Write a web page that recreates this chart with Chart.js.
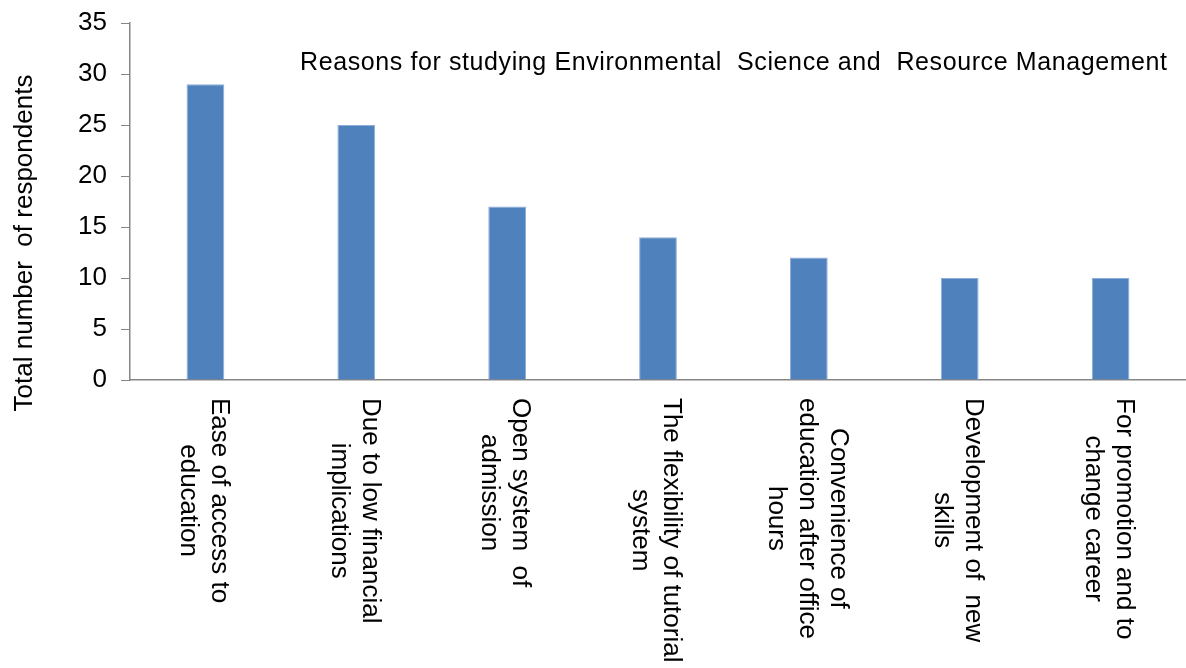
<!DOCTYPE html>
<html>
<head>
<meta charset="utf-8">
<script src="https://cdn.jsdelivr.net/npm/chart.js@4.4.0/dist/chart.umd.min.js"></script>
<style>
  html, body { margin: 0; padding: 0; background: #fff; }
</style>
</head>
<body>
<canvas id="chart" width="1186" height="668"></canvas>
<script>
// data
const categories = [
  ["Ease of access to", "education"],
  ["Due to low financial", "implications"],
  ["Open system  of", "admission"],
  ["The flexibility of tutorial", "system"],
  ["Convenience of", "education after office", "hours"],
  ["Development of  new", "skills"],
  ["For promotion and to", "change career"]
];
const respondents = [29, 25, 17, 14, 12, 10, 10];
const yMin = 0;
const yMax = 35;
const yStep = 5;
const chartTitle = "Reasons for studying Environmental  Science and  Resource Management";
const yTitle = "Total number  of respondents";

const FONT = '"Liberation Sans", Arial, sans-serif';
const AXIS = '#868686';

// draws the sideways category labels, the inner title and the y title
const textPlugin = {
  id: 'textPlugin',
  afterDraw(chart) {
    const ctx = chart.ctx;
    const xs = chart.scales.x;
    const area = chart.chartArea;
    ctx.save();
    ctx.fillStyle = '#000';
    ctx.font = '26px ' + FONT;
    categories.forEach((lines, i) => {
      const cx = xs.getPixelForValue(i);
      const w = Math.max(...lines.map(l => ctx.measureText(l).width));
      ctx.save();
      ctx.translate(cx - 2, area.bottom + 18);
      ctx.rotate(Math.PI / 2);
      ctx.textAlign = 'center';
      ctx.textBaseline = 'middle';
      lines.forEach((l, j) => {
        ctx.fillText(l, w / 2, (j - (lines.length - 1) / 2) * 31);
      });
      ctx.restore();
    });

    ctx.font = '25px ' + FONT;
    ctx.letterSpacing = '0.6px';
    ctx.textAlign = 'left';
    ctx.textBaseline = 'middle';
    ctx.fillText(chartTitle, 300, 63);
    ctx.letterSpacing = '0px';

    ctx.font = '26px ' + FONT;
    ctx.save();
    ctx.translate(25, 243);
    ctx.rotate(-Math.PI / 2);
    ctx.textAlign = 'center';
    ctx.fillText(yTitle, 0, 0);
    ctx.restore();
    ctx.restore();
  }
};

new Chart(document.getElementById('chart'), {
  type: 'bar',
  data: {
    labels: categories,
    datasets: [{
      data: respondents,
      backgroundColor: '#4F81BD',
      borderColor: '#8caed8',
      borderWidth: 1,
      barPercentage: 0.25,
      categoryPercentage: 1
    }]
  },
  options: {
    responsive: false,
    animation: false,
    devicePixelRatio: 1,
    layout: { padding: { top: 23, right: 0, bottom: 0, left: 0 } },
    plugins: {
      legend: { display: false },
      title: { display: false },
      tooltip: { enabled: false }
    },
    scales: {
      x: {
        grid: { display: false },
        border: { display: true, color: AXIS, width: 1.5 },
        ticks: { display: false },
        afterFit(scale) { scale.height = 288; }
      },
      y: {
        min: yMin,
        max: yMax,
        ticks: {
          stepSize: yStep,
          padding: 14,
          color: '#000',
          font: { family: FONT, size: 26 }
        },
        grid: {
          display: true,
          drawOnChartArea: false,
          drawTicks: true,
          tickLength: 9,
          color: AXIS
        },
        border: { display: true, color: AXIS, width: 1.5 },
        afterFit(scale) {
          scale.width = 130;
          scale.paddingTop = 0;
          scale.paddingBottom = 0;
        }
      }
    }
  },
  plugins: [textPlugin]
});
</script>
</body>
</html>
